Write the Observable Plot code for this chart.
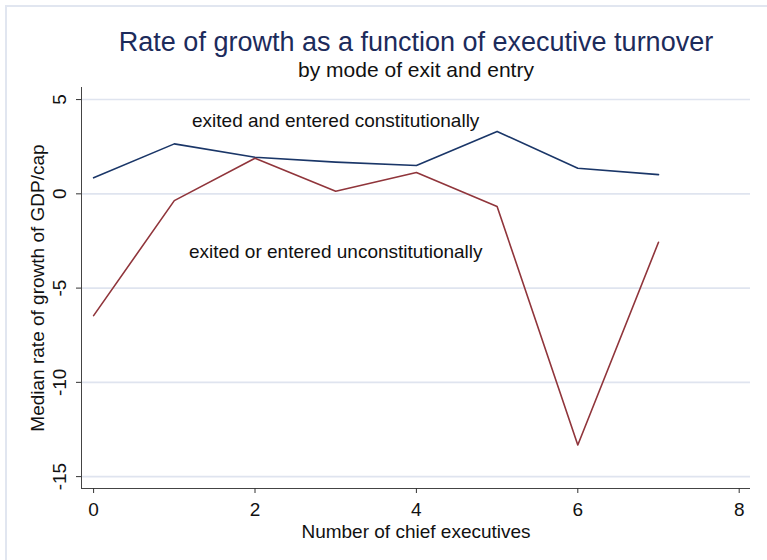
<!DOCTYPE html>
<html><head><meta charset="utf-8">
<script src="https://cdn.jsdelivr.net/npm/d3@7"></script>
<script src="https://cdn.jsdelivr.net/npm/@observablehq/plot@0.6"></script>
<style>
body{margin:0;background:#fff;}
#wrap{position:relative;width:767px;height:560px;overflow:hidden;background:#fff;}
#border{position:absolute;left:5px;top:5px;width:900px;height:700px;border-top:2px solid #e1e6f0;border-left:2px solid #e1e6f0;pointer-events:none;}
</style></head>
<body><div id="wrap"></div>
<script>
// ---- data ----
const executives = [0, 1, 2, 3, 4, 5, 6, 7];
const constitutional = [0.85, 2.65, 1.94, 1.68, 1.50, 3.31, 1.36, 1.02];
const unconstitutional = [-6.46, -0.36, 1.89, 0.14, 1.13, -0.67, -13.32, -2.57];
const seriesNames = ["exited and entered constitutionally", "exited or entered unconstitutionally"];
const labelX = [3, 3];
const labelY = [4, -3];
const xTicks = [0, 2, 4, 6, 8];
const yTicks = [5, 0, -5, -10, -15];
const xDomain = [-0.15, 8.14];
const yDomain = [-15.63, 5.64];
const titleText = "Rate of growth as a function of executive turnover";
const subtitleText = "by mode of exit and entry";
const xLabel = "Number of chief executives";
const yLabel = "Median rate of growth of GDP/cap";

const rows = [];
executives.forEach((x, i) => {
  rows.push({x, y: constitutional[i], s: seriesNames[0]});
});
executives.forEach((x, i) => {
  rows.push({x, y: unconstitutional[i], s: seriesNames[1]});
});
const labels = seriesNames.map((t, i) => ({t, x: labelX[i], y: labelY[i]}));

const font = "'Liberation Sans', Arial, sans-serif";
const plot = Plot.plot({
  width: 767,
  height: 560,
  marginLeft: 81,
  marginRight: 17,
  marginTop: 87,
  marginBottom: 72,
  style: {fontFamily: font, fontSize: "19px", background: "white", color: "#111"},
  x: {domain: xDomain},
  y: {domain: yDomain},
  color: {domain: seriesNames, range: ["#1a3668", "#90353b"]},
  marks: [
    Plot.gridY(yTicks, {stroke: "#dfe4ef", strokeOpacity: 1, strokeWidth: 1.6}),
    Plot.ruleY([yDomain[0]], {stroke: "#444", strokeWidth: 1}),
    Plot.ruleX([xDomain[0]], {stroke: "#444", strokeWidth: 1}),
    Plot.axisX({ticks: xTicks, tickSize: 5, tickPadding: 9, fontSize: 19, label: null, stroke: "#333", color: "#111"}),
    Plot.axisY({ticks: yTicks, tickSize: 5, tickFormat: () => "", label: null, stroke: "#333"}),
    Plot.text(yTicks, {y: d => d, text: d => String(d), frameAnchor: "left", dx: -16, rotate: -90, textAnchor: "middle", lineAnchor: "bottom", fontSize: 19, fill: "#111"}),
    Plot.line(rows, {x: "x", y: "y", z: "s", stroke: "s", strokeWidth: 1.6}),
    Plot.text(labels, {x: "x", y: "y", text: "t", textAnchor: "middle", lineAnchor: "middle", dy: 2, fontSize: 19, fill: "#111"}),
    Plot.text([titleText], {frameAnchor: "top", dy: -37, textAnchor: "middle", lineAnchor: "bottom", fontSize: 27, fill: "#1c2b5b"}),
    Plot.text([subtitleText], {frameAnchor: "top", dy: -11, textAnchor: "middle", lineAnchor: "bottom", fontSize: 21, fill: "#111"}),
    Plot.text([xLabel], {frameAnchor: "bottom", dy: 49, textAnchor: "middle", lineAnchor: "bottom", fontSize: 19, fill: "#111"}),
    Plot.text([yLabel], {frameAnchor: "left", dx: -44, rotate: -90, textAnchor: "middle", lineAnchor: "middle", fontSize: 19, fill: "#111"})
  ]
});
const wrap = document.getElementById("wrap");
wrap.appendChild(plot);
const b = document.createElement("div");
b.id = "border";
wrap.appendChild(b);
</script>
</body></html>
